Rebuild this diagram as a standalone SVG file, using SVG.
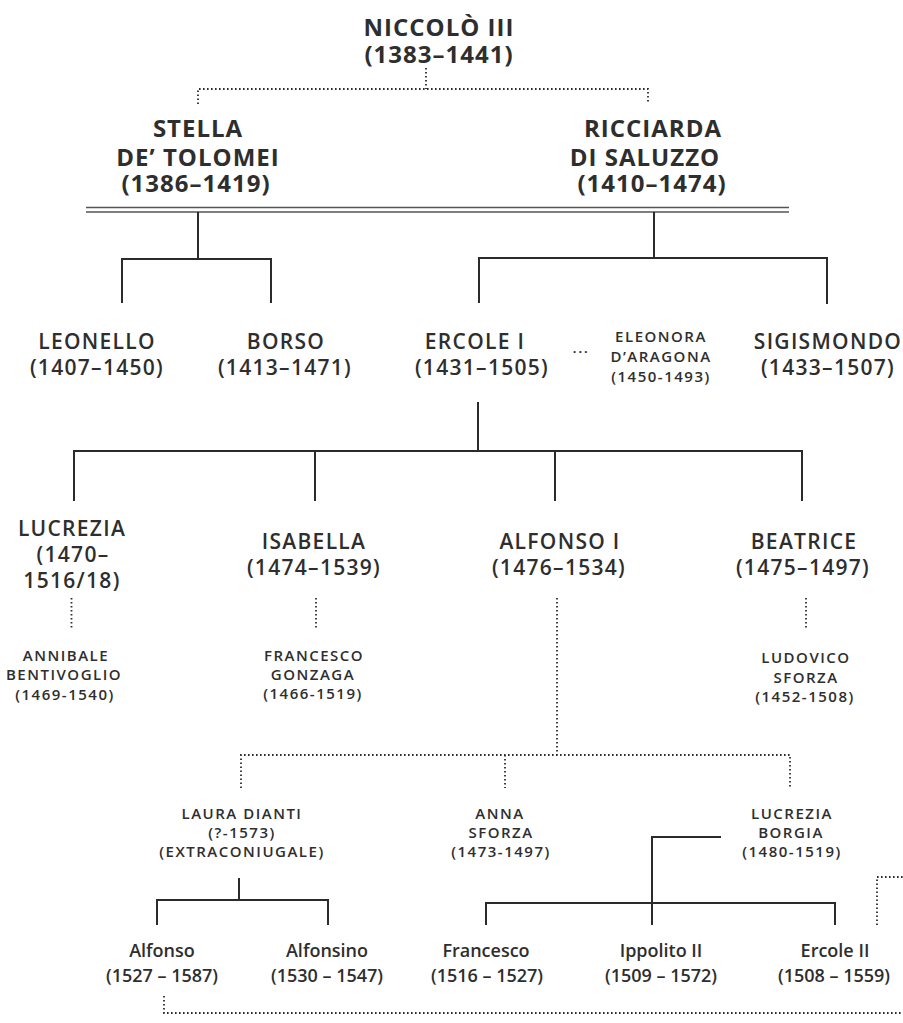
<svg xmlns="http://www.w3.org/2000/svg" width="903" height="1023" viewBox="0 0 903 1023">
<style>
text{font-family:"Open Sans","Noto Sans","Liberation Sans",sans-serif;fill:#2e2e2e;text-anchor:middle}
.t1{font-size:24px;font-weight:700;letter-spacing:1px}
.t2{font-size:21px;font-weight:600;letter-spacing:1.3px}
.t3{font-size:15px;font-weight:600;letter-spacing:1.5px}
.t4{font-size:18px;font-weight:600}
.solid{fill:none;stroke:#2b2b2b;stroke-width:2}
.dbl{fill:none;stroke:#555;stroke-width:1.4}
.dot{fill:none;stroke:#2b2b2b;stroke-width:1.8;stroke-dasharray:1.6 2.4}
</style>
<rect width="903" height="1023" fill="#fff"/>
<g id="connectors">
<path class="dbl" d="M86 207.5 H789 M86 212 H789"/>
<path class="solid" d="M122 303 V259 H271 V303 M198 212 V259"/>
<path class="solid" d="M479 303 V258 H827 V304 M654 212 V258"/>
<path class="solid" d="M478 402 V451 M74 501 V451 H802 V501 M315 451 V501 M555 451 V501"/>
<path class="solid" d="M239 878 V900 M157 925 V900 H328 V925"/>
<path class="solid" d="M721 837 H652 V925 M486 925 V903 H835 V925"/>
<path class="dot" d="M426 68 V89 M198 104 V89 H648 V104"/>
<path class="dot" d="M71.5 598 V630 M316 598 V630 M806 598 V630"/>
<path class="dot" d="M557 598 V755 M241 788 V755 H790 V788 M505 755 V788"/>
<path class="dot" d="M877 925 V877 H903"/>
<path class="dot" d="M164 996 V1013 H903"/>
</g>
<g id="niccolo"><text class="t1" x="439" y="36">NICCOLÒ III</text><text class="t1" x="439" y="63">(1383–1441)</text></g>
<g id="stella"><text class="t1" x="198" y="137">STELLA</text><text class="t1" x="198" y="166">DE’ TOLOMEI</text><text class="t1" x="196" y="192">(1386–1419)</text></g>
<g id="ricciarda"><text class="t1" x="653" y="137">RICCIARDA</text><text class="t1" x="645" y="166">DI SALUZZO</text><text class="t1" x="652" y="192">(1410–1474)</text></g>
<g id="leonello"><text class="t2" x="97" y="349">LEONELLO</text><text class="t2" x="97" y="375">(1407–1450)</text></g>
<g id="borso"><text class="t2" x="286" y="349">BORSO</text><text class="t2" x="285" y="375">(1413–1471)</text></g>
<g id="ercole1"><text class="t2" x="475" y="349">ERCOLE I</text><text class="t2" x="482" y="375">(1431–1505)</text></g>
<g id="dots1"><text class="t3" x="581" y="353">...</text></g>
<g id="eleonora"><text class="t3" x="661" y="342">ELEONORA</text><text class="t3" x="661" y="362">D’ARAGONA</text><text class="t3" x="661" y="382">(1450-1493)</text></g>
<g id="sigismondo"><text class="t2" x="828" y="349">SIGISMONDO</text><text class="t2" x="828" y="375">(1433–1507)</text></g>
<g id="lucrezia"><text class="t2" x="72" y="536">LUCREZIA</text><text class="t2" x="73" y="562">(1470–</text><text class="t2" x="72" y="588">1516/18)</text></g>
<g id="isabella"><text class="t2" x="314" y="549">ISABELLA</text><text class="t2" x="314" y="575">(1474–1539)</text></g>
<g id="alfonso1"><text class="t2" x="560" y="549">ALFONSO I</text><text class="t2" x="559" y="575">(1476–1534)</text></g>
<g id="beatrice"><text class="t2" x="804" y="549">BEATRICE</text><text class="t2" x="803" y="575">(1475–1497)</text></g>
<g id="annibale"><text class="t3" x="66" y="661">ANNIBALE</text><text class="t3" x="64" y="680">BENTIVOGLIO</text><text class="t3" x="65" y="700">(1469-1540)</text></g>
<g id="gonzaga"><text class="t3" x="314" y="661">FRANCESCO</text><text class="t3" x="313" y="680">GONZAGA</text><text class="t3" x="313" y="699">(1466-1519)</text></g>
<g id="ludovico"><text class="t3" x="806" y="663">LUDOVICO</text><text class="t3" x="806" y="683">SFORZA</text><text class="t3" x="805" y="702">(1452-1508)</text></g>
<g id="laura"><text class="t3" x="242" y="819">LAURA DIANTI</text><text class="t3" x="242" y="838">(?-1573)</text><text class="t3" x="242" y="857">(EXTRACONIUGALE)</text></g>
<g id="anna"><text class="t3" x="500" y="819">ANNA</text><text class="t3" x="501" y="838">SFORZA</text><text class="t3" x="501" y="857">(1473-1497)</text></g>
<g id="borgia"><text class="t3" x="792" y="819">LUCREZIA</text><text class="t3" x="791" y="838">BORGIA</text><text class="t3" x="792" y="857">(1480-1519)</text></g>
<g id="alfonso"><text class="t4" x="162" y="957">Alfonso</text><text class="t4" x="162" y="982">(1527 – 1587)</text></g>
<g id="alfonsino"><text class="t4" x="327" y="957">Alfonsino</text><text class="t4" x="327" y="982">(1530 – 1547)</text></g>
<g id="francesco"><text class="t4" x="486" y="957">Francesco</text><text class="t4" x="487" y="982">(1516 – 1527)</text></g>
<g id="ippolito"><text class="t4" x="661" y="957">Ippolito II</text><text class="t4" x="661" y="982">(1509 – 1572)</text></g>
<g id="ercole2"><text class="t4" x="835" y="957">Ercole II</text><text class="t4" x="834" y="982">(1508 – 1559)</text></g>
</svg>
